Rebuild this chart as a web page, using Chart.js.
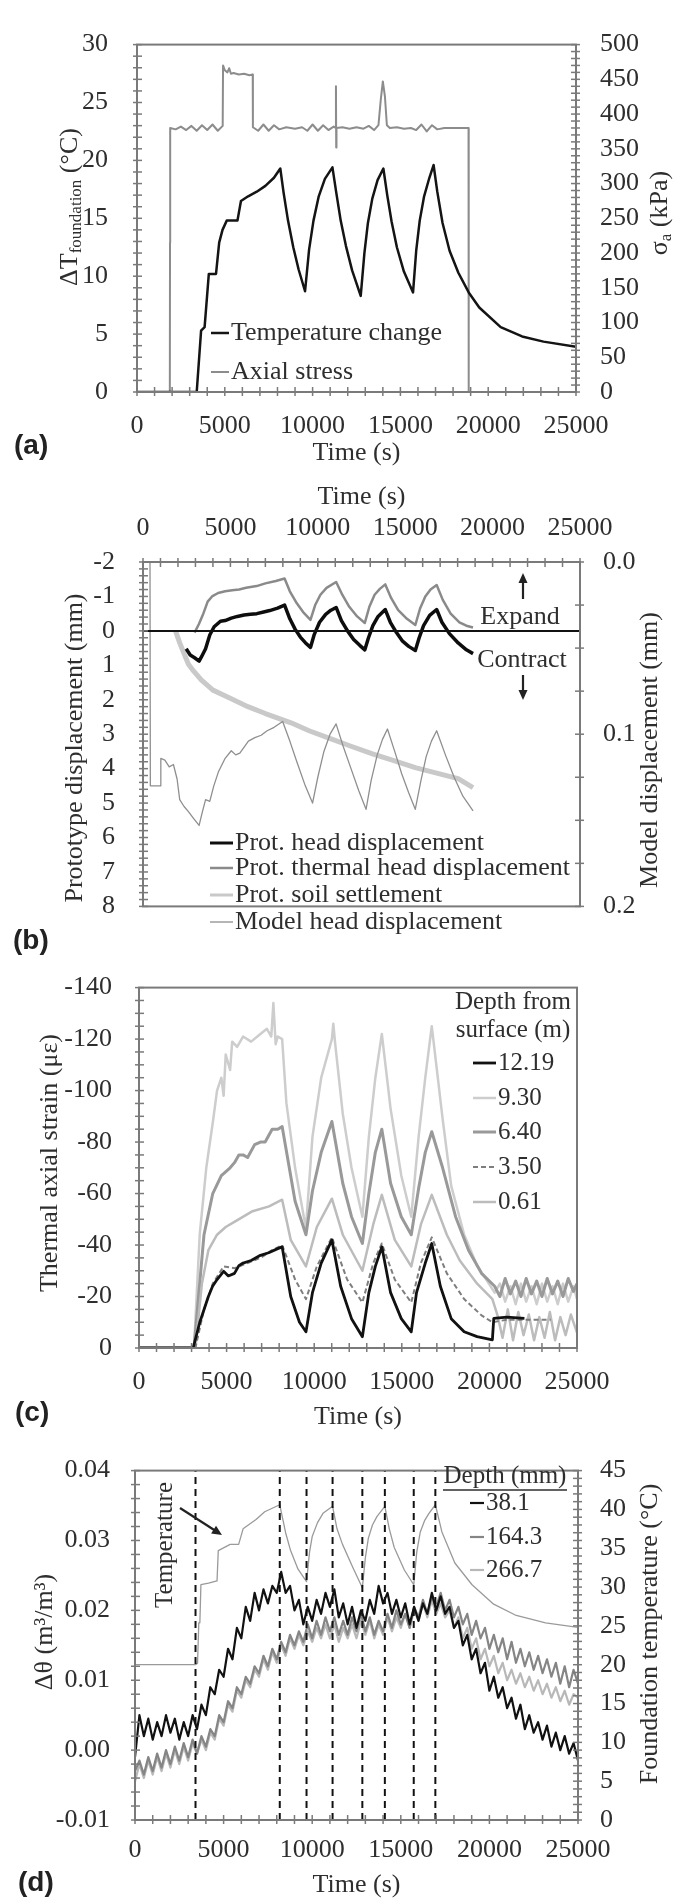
<!DOCTYPE html>
<html><head><meta charset="utf-8">
<script src="https://cdn.jsdelivr.net/npm/chart.js@4.4.1/dist/chart.umd.min.js"></script>
<style>
html,body{margin:0;padding:0;background:#fff;}
#wrap{position:relative;width:681px;height:1902px;overflow:hidden;background:#fff;}
canvas{position:absolute;left:0;}
.lbl{position:absolute;font:bold 28px 'Liberation Sans',Arial,sans-serif;color:#222;line-height:28px;}
</style></head><body>
<div id="wrap">
<canvas id="ca" width="681" height="470" style="top:0px"></canvas>
<canvas id="cb" width="681" height="480" style="top:470px"></canvas>
<canvas id="cc" width="681" height="490" style="top:945px"></canvas>
<canvas id="cd" width="681" height="472" style="top:1430px"></canvas>
<div class="lbl" style="left:14px;top:431px">(a)</div>
<div class="lbl" style="left:13px;top:926px">(b)</div>
<div class="lbl" style="left:15px;top:1398px">(c)</div>
<div class="lbl" style="left:18px;top:1868px">(d)</div>
</div>
<script>
// ---------------- DATA ----------------
// Panel (a): [time (s), value]
const tempChangeA = [[0,0],[3400,0],[3650,5.3],[3850,5.6],[4090,10.2],[4500,10.2],[4680,12.9],[4870,14.0],[5110,14.8],[5720,14.8],[5920,16.5],[6330,16.9],[6820,17.3],[7310,17.8],[7800,18.5],[8160,19.3],[8350,17.2],[8600,14.8],[8900,12.5],[9200,10.6],[9570,8.7],[9800,12.3],[10050,14.8],[10350,16.9],[10700,18.4],[11130,19.4],[11350,17.2],[11600,14.8],[11900,12.6],[12250,10.5],[12740,8.3],[12950,12.0],[13150,14.6],[13400,16.7],[13700,18.3],[14030,19.3],[14250,17.0],[14500,14.7],[14800,12.5],[15200,10.4],[15720,8.6],[15900,12.2],[16100,14.8],[16350,16.9],[16650,18.5],[16890,19.6],[17100,17.3],[17400,14.6],[17800,12.2],[18300,10.3],[18890,8.6],[19490,7.3],[20710,5.6],[21930,4.8],[23150,4.35],[25000,3.9]];
const axialStressA = [[0,0],[1870,0],[1880,215],[1890,380],[2200,378],[2500,382],[2800,377],[3100,383],[3400,376],[3700,384],[4000,377],[4300,385],[4600,376],[4880,383],[4900,470],[5000,463],[5150,460],[5250,466],[5350,458],[5500,459],[5800,457],[6100,458],[6400,456],[6590,457],[6600,381],[6900,376],[7200,385],[7500,376],[7800,384],[8100,378],[8500,381],[9000,379],[9400,381],[9700,376],[10000,385],[10300,376],[10600,384],[10900,377],[11200,382],[11320,380],[11330,440],[11345,352],[11360,380],[11700,381],[12100,379],[12500,381],[12900,379],[13200,383],[13500,377],[13750,384],[13880,420],[14000,447],[14120,425],[14230,384],[14400,380],[14800,381],[15200,379],[15600,380],[15900,377],[16200,385],[16500,375],[16800,384],[17100,378],[17500,380],[18000,380],[18500,380],[18880,380],[18890,0],[25000,0]];
const labelsA = ['Temperature change','Axial stress'];

// Panel (b)
const headB = [[2470,0.52],[2700,0.7],[2950,0.78],[3210,0.88],[3350,0.75],[3580,0.52],[3820,0.12],[4070,-0.12],[4250,-0.2],[4430,-0.28],[4700,-0.3],[5050,-0.37],[5400,-0.42],[5780,-0.46],[6150,-0.48],[6510,-0.5],[6900,-0.55],[7250,-0.59],[7700,-0.66],[8100,-0.75],[8400,-0.35],[8700,-0.05],[9000,0.18],[9300,0.35],[9580,0.48],[9800,0.1],[10100,-0.25],[10450,-0.48],[10750,-0.6],[11050,-0.68],[11350,-0.3],[11700,0.0],[12050,0.25],[12400,0.42],[12690,0.55],[12900,0.2],[13150,-0.15],[13450,-0.42],[13860,-0.62],[14150,-0.25],[14500,0.05],[14850,0.3],[15200,0.45],[15580,0.57],[15800,0.2],[16050,-0.15],[16400,-0.45],[16800,-0.62],[17100,-0.25],[17530,0.08],[18030,0.35],[18500,0.55],[18880,0.66]];
const thermalB = [[2950,0.05],[3200,-0.2],[3450,-0.5],[3700,-0.85],[3950,-1.0],[4300,-1.1],[4700,-1.15],[5100,-1.18],[5500,-1.2],[5900,-1.25],[6500,-1.3],[7000,-1.38],[7600,-1.45],[8100,-1.52],[8400,-1.15],[8800,-0.8],[9200,-0.52],[9580,-0.32],[9850,-0.75],[10150,-1.05],[10500,-1.25],[11050,-1.42],[11400,-1.05],[11800,-0.7],[12250,-0.42],[12690,-0.23],[12950,-0.7],[13250,-1.05],[13550,-1.22],[13860,-1.35],[14200,-0.95],[14600,-0.6],[15100,-0.35],[15580,-0.17],[15850,-0.65],[16150,-1.0],[16450,-1.2],[16800,-1.33],[17150,-0.9],[17600,-0.5],[18100,-0.25],[18500,-0.15],[18880,-0.1]];
const soilB = [[1860,0.0],[2100,0.35],[2300,0.6],[2600,0.97],[2900,1.17],[3330,1.42],[4000,1.72],[5050,1.97],[6000,2.2],[7000,2.4],[8470,2.67],[9500,2.9],[10680,3.12],[11900,3.35],[13130,3.57],[14350,3.77],[15580,3.97],[16800,4.13],[18030,4.29],[18880,4.55]];
const modelB = [[400,0.0],[420,0.13],[1000,0.13],[1020,0.114],[1250,0.115],[1500,0.119],[1740,0.1176],[1950,0.126],[2100,0.138],[2350,0.142],[2600,0.145],[2900,0.149],[3210,0.153],[3400,0.145],[3580,0.138],[3820,0.139],[4050,0.13],[4310,0.122],[4700,0.114],[5050,0.1096],[5300,0.112],[5540,0.111],[6030,0.104],[6400,0.102],[6760,0.1006],[7100,0.098],[7500,0.096],[7990,0.0926],[8400,0.104],[8800,0.116],[9250,0.129],[9700,0.14],[10000,0.125],[10350,0.11],[10700,0.1],[11045,0.094],[11450,0.107],[11900,0.12],[12350,0.133],[12760,0.1436],[13050,0.127],[13400,0.112],[13700,0.103],[13985,0.097],[14400,0.11],[14800,0.123],[15200,0.134],[15576,0.1436],[15900,0.127],[16200,0.113],[16500,0.104],[16800,0.098],[17300,0.112],[17800,0.125],[18300,0.136],[18882,0.1445]];
const zeroLineB = [[0,0],[25000,0]];
const labelsB = ['Prot. head displacement','Prot. thermal head displacement','Prot. soil settlement','Model head displacement'];

// Panel (c)
const c12_19 = [[0,0],[3090,0],[3470,-10],[3960,-20],[4200,-24],[4455,-26.6],[4830,-29.8],[5100,-28],[5450,-29],[5700,-32],[5940,-33],[6400,-34],[6930,-36],[7400,-37],[7920,-38.6],[8170,-39.3],[8660,-20],[9160,-10],[9530,-6.3],[9900,-21.5],[10400,-33],[11010,-42],[11510,-24],[12130,-11.4],[12750,-4.4],[13120,-21.5],[13490,-31.7],[13860,-39.3],[14360,-21.5],[14970,-11.4],[15540,-6.3],[15840,-21.5],[16340,-33],[16710,-40.6],[17200,-24],[17820,-11.4],[18560,-6.3],[19300,-4.4],[20170,-3.2],[20250,-11.5],[21000,-12],[22000,-11.5]];
const c9_30 = [[0,0],[3140,0],[3465,-44],[3840,-70],[4210,-87.5],[4455,-100],[4700,-105],[4830,-98],[4950,-114],[5200,-108],[5320,-119],[5600,-117],[5940,-121],[6400,-119],[6930,-122],[7300,-124],[7550,-121],[7670,-134],[7800,-118],[7920,-121],[8170,-120],[8415,-95],[8910,-70],[9405,-51],[9530,-47],[9900,-82],[10400,-105],[11010,-120],[11090,-126],[11200,-118],[11630,-91],[12130,-70],[12750,-51],[13120,-82],[13490,-105],[13860,-122],[14360,-93],[14970,-67],[15540,-51],[15960,-82],[16340,-105],[16710,-125],[17330,-89],[17820,-63],[18560,-44],[19300,-32],[20300,-21.5],[20600,-25],[20900,-18],[21200,-24],[21500,-17],[21800,-25],[22100,-18],[22400,-24],[22700,-17],[23000,-25],[23300,-18],[23600,-24],[23900,-17],[24200,-25],[24500,-18],[24800,-24],[25000,-19]];
const c6_40 = [[0,0],[3140,0],[3710,-44],[4210,-60],[4700,-67],[5200,-70],[5450,-72],[5700,-75],[5940,-75],[6200,-74],[6600,-79],[6930,-80],[7200,-80],[7600,-85],[7920,-85],[8170,-86],[8910,-57],[9530,-44],[9900,-61],[10400,-76],[11010,-88],[11630,-64],[12130,-51],[12750,-40.6],[13120,-60],[13490,-76],[13860,-85],[14360,-64],[14970,-51],[15540,-44],[15960,-62],[16340,-76],[16710,-84],[17330,-70],[18070,-51],[18810,-38],[19550,-29],[20300,-24],[20600,-20],[20900,-27],[21200,-21],[21500,-26],[21800,-20],[22100,-27],[22400,-21],[22700,-26],[23000,-20],[23300,-27],[23600,-21],[23900,-26],[24200,-20],[24500,-27],[24800,-22],[25000,-25]];
const c3_50 = [[0,0],[3220,0],[3710,-15],[3960,-20],[4210,-25],[4830,-31.7],[5450,-31],[6200,-33],[6930,-35],[7600,-38],[8170,-40],[8910,-26.6],[9530,-19],[10150,-31.7],[11010,-43],[11880,-26.6],[12750,-17.7],[13370,-33],[13860,-40.6],[14600,-26.6],[15540,-17.7],[16090,-33],[16710,-43],[17570,-29],[18560,-19],[19550,-12.7],[20170,-10],[21000,-11],[22000,-11],[23500,-11]];
const c0_61 = [[0,0],[3220,0],[3590,-25],[3960,-38],[4455,-44],[4950,-47],[5445,-49],[6435,-53],[7425,-55],[8170,-57.6],[8660,-42],[9530,-31.7],[10150,-47],[11010,-58],[11630,-44],[12750,-30],[13370,-48],[13860,-59.5],[14600,-42],[15540,-31.7],[16090,-48],[16710,-59.5],[17570,-44],[18310,-34],[19300,-25],[20170,-19],[20450,-13],[20750,-4],[21050,-15],[21350,-3],[21650,-14],[21950,-5],[22250,-13],[22550,-3],[22850,-12],[23150,-4],[23450,-14],[23750,-3],[24050,-12],[24350,-5],[24650,-13],[25000,-6]];
const depthLabelsC = ['12.19','9.30','6.40','3.50','0.61'];

// Panel (d)
const timeD = [0,250,500,750,1000,1250,1500,1750,2000,2250,
2500,2750,3000,3250,3500,3750,4000,4250,4500,4750,
5000,5250,5500,5750,6000,6250,6500,6750,7000,7250,
7500,7750,8000,8250,8500,8750,9000,9250,9500,9750,
10000,10250,10500,10750,11000,11250,11500,11750,12000,12250,
12500,12750,13000,13250,13500,13750,14000,14250,14500,14750,
15000,15250,15500,15750,16000,16250,16500,16750,17000,17250,
17500,17750,18000,18250,18500,18750,19000,19250,19500,19750,
20000,20250,20500,20750,21000,21250,21500,21750,22000,22250,
22500,22750,23000,23250,23500,23750,24000,24250,24500,24750,
25000];
const d38_1 = [-0.001,0.005,0.002,0.0045,0.0015,0.004,0.002,0.005,0.0025,0.0045,
0.0015,0.004,0.002,0.005,0.003,0.0065,0.005,0.009,0.008,0.0115,
0.0105,0.0145,0.013,0.0175,0.016,0.0205,0.0185,0.0225,0.02,0.023,
0.021,0.0235,0.0225,0.0255,0.0225,0.0235,0.02,0.0215,0.018,0.0205,
0.0185,0.0215,0.0195,0.0225,0.0205,0.023,0.019,0.021,0.018,0.0205,
0.0175,0.02,0.0185,0.0215,0.0195,0.0235,0.021,0.0225,0.0195,0.0215,
0.019,0.021,0.018,0.0205,0.0185,0.021,0.0195,0.0225,0.02,0.022,
0.0195,0.0205,0.0175,0.0185,0.015,0.0165,0.013,0.0145,0.011,0.0125,
0.0085,0.0105,0.0075,0.009,0.006,0.0075,0.0045,0.0065,0.003,0.005,
0.0025,0.004,0.0015,0.0035,0.0005,0.0025,0.0,0.002,-0.0005,0.001,
-0.0015];
const d164_3 = [-0.003,-0.0015,-0.0035,-0.001,-0.003,-0.0005,-0.0025,0.0,-0.002,0.0005,
-0.0015,0.001,-0.001,0.0015,-0.0005,0.002,0.0005,0.003,0.002,0.005,
0.004,0.007,0.006,0.009,0.008,0.0105,0.0095,0.012,0.011,0.0135,
0.012,0.0145,0.013,0.0155,0.014,0.0165,0.015,0.017,0.0155,0.018,
0.016,0.0185,0.0165,0.019,0.017,0.019,0.0165,0.0185,0.0165,0.019,
0.017,0.0195,0.017,0.019,0.0165,0.0185,0.017,0.0195,0.0175,0.02,
0.018,0.0195,0.0175,0.0205,0.019,0.0215,0.0195,0.022,0.0205,0.0225,
0.02,0.0215,0.019,0.0205,0.018,0.0195,0.0165,0.0185,0.016,0.0175,
0.0145,0.0165,0.014,0.016,0.013,0.0155,0.0125,0.0145,0.012,0.014,
0.0115,0.0135,0.011,0.013,0.0105,0.0125,0.0095,0.012,0.009,0.0115,
0.0095];
const d266_7 = [-0.0045,-0.002,-0.004,-0.0015,-0.0035,-0.001,-0.003,-0.0005,-0.0025,0.0,
-0.002,0.0005,-0.0015,0.001,-0.0005,0.0015,0.0,0.0025,0.0015,0.0045,
0.0035,0.0065,0.0055,0.0085,0.0075,0.01,0.009,0.0115,0.0105,0.013,
0.0115,0.014,0.0125,0.015,0.0135,0.016,0.0145,0.0165,0.015,0.017,
0.0155,0.0175,0.016,0.018,0.016,0.018,0.0155,0.0175,0.016,0.018,
0.016,0.0185,0.0165,0.0185,0.016,0.018,0.0165,0.019,0.017,0.019,
0.0175,0.0195,0.0175,0.02,0.0185,0.021,0.019,0.0215,0.0195,0.021,
0.019,0.02,0.0175,0.019,0.016,0.0175,0.0145,0.016,0.013,0.0145,
0.012,0.0135,0.011,0.0125,0.01,0.0115,0.0095,0.011,0.009,0.0105,
0.0085,0.01,0.008,0.0095,0.0075,0.009,0.007,0.0085,0.0065,0.008,
0.0075];
const tempD = [[0,20],[3415,20],[3530,20.2],[3600,25.4],[3660,25.4],[3720,30.3],[4150,30.5],[4630,30.8],[4700,34.7],[5370,35.5],[5850,35.5],[6100,37.5],[6830,38.7],[7320,39.7],[8170,40.6],[8500,37],[8780,34.7],[9200,32.3],[9680,30.7],[9850,34.5],[10000,36.5],[10300,38.3],[10610,39.5],[11150,40.4],[11400,37.5],[11710,35.5],[12300,32.5],[12830,29.9],[13000,33.8],[13170,36.3],[13400,38],[13660,39.1],[14100,40.4],[14350,37.5],[14630,35.1],[15200,32.2],[15730,30.3],[15900,34.5],[16100,37.1],[16350,38.6],[16590,39.5],[16950,40.6],[17320,37.1],[18050,33.1],[19020,30.3],[20240,27.8],[21460,26.4],[23170,25.4],[25000,24.8]];
const eventTimesD = [3415, 8170, 9680, 11150, 12830, 14100, 15730, 16950];
const depthLabelsD = ['38.1','164.3','266.7'];

// ---------------- HELPERS ----------------
const P = arr => arr.map(p => ({x: p[0], y: p[1]}));
const Z = (xs, ys) => xs.map((x, i) => ({x, y: ys[i]}));
const SERIF = "'Liberation Serif', 'Times New Roman', serif";
const FS = 26;
const TXT = '#2e2e2e';
const TF = {family: SERIF, size: FS};
Chart.defaults.font.family = SERIF;
Chart.defaults.font.size = FS;
Chart.defaults.color = TXT;
Chart.defaults.animation = false;
Chart.defaults.elements.point.radius = 0;
Chart.defaults.elements.line.tension = 0;
Chart.defaults.elements.line.borderJoinStyle = 'round';

function drawParts(ctx, t, oy) {
  ctx.save();
  ctx.translate(t.x, t.y - oy);
  ctx.rotate(t.rot || 0);
  const big = FS + 'px ' + SERIF, small = '17px ' + SERIF;
  let total = 0;
  t.parts.forEach(p => { ctx.font = p.sub ? small : big; total += ctx.measureText(p.t).width; });
  let x = -total / 2;
  ctx.textBaseline = 'middle'; ctx.textAlign = 'left'; ctx.fillStyle = TXT;
  t.parts.forEach(p => { ctx.font = p.sub ? small : big; ctx.fillText(p.t, x, p.sub ? 7 : 0); x += ctx.measureText(p.t).width; });
  ctx.restore();
}

const decor = {
  id: 'decor',
  afterDatasetsDraw(chart, args, o) {
    const ctx = chart.ctx, a = chart.chartArea, oy = o.oy || 0;
    ctx.save();
    ctx.setLineDash([]);
    ctx.strokeStyle = '#7a7a7a'; ctx.lineWidth = 2;
    ctx.strokeRect(a.left, a.top, a.right - a.left, a.bottom - a.top);
    ctx.lineWidth = 1.5;
    (o.minor || []).forEach(m => {
      const s = chart.scales[m.scale];
      const n = Math.round((s.max - s.min) / m.step);
      for (let i = 0; i <= n; i++) {
        const p = s.getPixelForValue(s.min + i * m.step);
        ctx.beginPath();
        if (m.edge === 'left') { ctx.moveTo(a.left - 4, p); ctx.lineTo(a.left + 5, p); }
        else if (m.edge === 'right') { ctx.moveTo(a.right - 5, p); ctx.lineTo(a.right + 4, p); }
        else if (m.edge === 'bottom') { ctx.moveTo(p, a.bottom - 5); ctx.lineTo(p, a.bottom + 4); }
        else { ctx.moveTo(p, a.top - 4); ctx.lineTo(p, a.top + 5); }
        ctx.stroke();
      }
    });
    if (o.legend) {
      const L = o.legend;
      ctx.font = L.font || (FS + 'px ' + SERIF);
      ctx.textBaseline = 'middle'; ctx.textAlign = 'left';
      L.items.forEach(it => {
        const ds = chart.data.datasets[it.ds];
        ctx.strokeStyle = ds.borderColor; ctx.lineWidth = Math.min(ds.borderWidth, 3);
        ctx.setLineDash(ds.borderDash || []);
        ctx.beginPath(); ctx.moveTo(L.x1, it.y - oy); ctx.lineTo(L.x2, it.y - oy); ctx.stroke();
        ctx.setLineDash([]);
        ctx.fillStyle = TXT;
        ctx.fillText(ds.label, L.tx, it.y - oy);
      });
    }
    (o.texts || []).forEach(t => {
      ctx.save();
      ctx.translate(t.x, t.y - oy); ctx.rotate(t.rot || 0);
      ctx.font = t.font || (FS + 'px ' + SERIF);
      ctx.textAlign = 'center'; ctx.textBaseline = 'middle'; ctx.fillStyle = TXT;
      ctx.fillText(t.t, 0, 0);
      ctx.restore();
    });
    (o.rules || []).forEach(r => {
      ctx.strokeStyle = TXT; ctx.lineWidth = 1.5; ctx.setLineDash([]);
      ctx.beginPath(); ctx.moveTo(r[0], r[1] - oy); ctx.lineTo(r[2], r[3] - oy); ctx.stroke();
    });
    (o.arrows || []).forEach(r => {
      const x1 = r[0], y1 = r[1] - oy, x2 = r[2], y2 = r[3] - oy;
      const ang = Math.atan2(y2 - y1, x2 - x1);
      ctx.strokeStyle = '#222'; ctx.fillStyle = '#222'; ctx.lineWidth = 2.2; ctx.setLineDash([]);
      ctx.beginPath(); ctx.moveTo(x1, y1); ctx.lineTo(x2 - 6 * Math.cos(ang), y2 - 6 * Math.sin(ang)); ctx.stroke();
      ctx.beginPath();
      ctx.moveTo(x2, y2);
      ctx.lineTo(x2 - 10 * Math.cos(ang) + 4.5 * Math.sin(ang), y2 - 10 * Math.sin(ang) - 4.5 * Math.cos(ang));
      ctx.lineTo(x2 - 10 * Math.cos(ang) - 4.5 * Math.sin(ang), y2 - 10 * Math.sin(ang) + 4.5 * Math.cos(ang));
      ctx.closePath(); ctx.fill();
    });
    (o.titles || []).forEach(t => drawParts(ctx, t, oy));
    ctx.restore();
  }
};

const noGrid = {display: false, drawTicks: false};
const noBorder = {display: false};
const timeTicks = pad => ({stepSize: 5000, padding: pad, maxRotation: 0, autoSkip: false, font: TF, color: TXT, callback: v => String(v)});
const yTicks = (step, pad, cb) => { const t = {stepSize: step, padding: pad, font: TF, color: TXT}; if (cb) t.callback = cb; return t; };
const xTitle = (pt, pb) => ({display: true, text: 'Time (s)', font: TF, color: TXT, padding: {top: pt, bottom: pb}});
const R = -Math.PI / 2;

// ---------------- PANEL A ----------------
new Chart('ca', {
  type: 'line',
  data: {datasets: [
    {label: labelsA[0], data: P(tempChangeA), borderColor: '#141414', borderWidth: 2.5, yAxisID: 'y'},
    {label: labelsA[1], data: P(axialStressA), borderColor: '#8c8c8c', borderWidth: 2, yAxisID: 'y2'}
  ]},
  options: {
    responsive: false, animation: false,
    layout: {padding: {top: 23, left: 0, right: 0, bottom: 0}},
    scales: {
      x: {type: 'linear', position: 'bottom', min: 0, max: 25000, afterFit: s => { s.height = 78; },
          ticks: timeTicks(19), grid: noGrid, border: noBorder, title: xTitle(0, 1.4)},
      y: {type: 'linear', position: 'left', min: 0, max: 30, afterFit: s => { s.width = 137; },
          ticks: yTicks(5, 29), grid: noGrid, border: noBorder},
      y2: {type: 'linear', position: 'right', min: 0, max: 500, afterFit: s => { s.width = 105; },
          ticks: yTicks(50, 24), grid: noGrid, border: noBorder}
    },
    plugins: {
      legend: {display: false}, tooltip: {enabled: false},
      decor: {
        oy: 0,
        minor: [{scale: 'x', step: 1000, edge: 'bottom'}, {scale: 'y', step: 1, edge: 'left'}, {scale: 'y2', step: 10, edge: 'right'}],
        legend: {x1: 211, x2: 229, tx: 231, items: [{ds: 0, y: 333}, {ds: 1, y: 372}]},
        titles: [
          {x: 70, y: 207, rot: R, parts: [{t: 'ΔT'}, {t: 'foundation', sub: 1}, {t: ' (°C)'}]},
          {x: 660, y: 213, rot: R, parts: [{t: 'σ'}, {t: 'a', sub: 1}, {t: ' (kPa)'}]}
        ]
      }
    }
  },
  plugins: [decor]
});

// ---------------- PANEL B ----------------
new Chart('cb', {
  type: 'line',
  data: {datasets: [
    {label: 'zero', data: P(zeroLineB), borderColor: '#111', borderWidth: 2, yAxisID: 'y'},
    {label: labelsB[0], data: P(headB), borderColor: '#0d0d0d', borderWidth: 3.5, yAxisID: 'y'},
    {label: labelsB[1], data: P(thermalB), borderColor: '#8a8a8a', borderWidth: 2.5, yAxisID: 'y'},
    {label: labelsB[3], data: P(modelB), borderColor: '#8f8f8f', borderWidth: 1.3, yAxisID: 'y2'},
    {label: labelsB[2], data: P(soilB), borderColor: '#c9c9c9', borderWidth: 5, yAxisID: 'y'}
  ]},
  options: {
    responsive: false, animation: false,
    layout: {padding: {top: 0, left: 0, right: 0, bottom: 17}},
    scales: {
      x: {type: 'linear', position: 'top', min: 0, max: 25000, afterFit: s => { s.height = 92; },
          ticks: timeTicks(18.4), grid: noGrid, border: noBorder, title: xTitle(11.4, 0)},
      y: {type: 'linear', position: 'left', min: -2, max: 8, reverse: true, afterFit: s => { s.width = 143; },
          ticks: yTicks(1, 28), grid: noGrid, border: noBorder},
      y2: {type: 'linear', position: 'right', min: 0, max: 0.2, reverse: true, afterFit: s => { s.width = 101; },
          ticks: yTicks(0.1, 23, v => v.toFixed(1)), grid: noGrid, border: noBorder}
    },
    plugins: {
      legend: {display: false}, tooltip: {enabled: false},
      decor: {
        oy: 470,
        minor: [{scale: 'x', step: 1000, edge: 'top'}, {scale: 'y', step: 0.2, edge: 'left'}, {scale: 'y2', step: 0.025, edge: 'right'}],
        legend: {x1: 210, x2: 233, tx: 235, items: [{ds: 1, y: 843}, {ds: 2, y: 868}, {ds: 4, y: 895}, {ds: 3, y: 922}]},
        texts: [{t: 'Expand', x: 520, y: 617}, {t: 'Contract', x: 522, y: 660}],
        arrows: [[523, 599, 523, 573], [523, 675, 523, 700]],
        titles: [
          {x: 75, y: 748, rot: R, parts: [{t: 'Prototype displacement (mm)'}]},
          {x: 650, y: 750, rot: R, parts: [{t: 'Model displacement (mm)'}]}
        ]
      }
    }
  },
  plugins: [decor]
});

// ---------------- PANEL C ----------------
new Chart('cc', {
  type: 'line',
  data: {datasets: [
    {label: depthLabelsC[0], data: P(c12_19), borderColor: '#111', borderWidth: 2.8},
    {label: depthLabelsC[3], data: P(c3_50), borderColor: '#7e7e7e', borderWidth: 2, borderDash: [5, 3]},
    {label: depthLabelsC[4], data: P(c0_61), borderColor: '#bcbcbc', borderWidth: 2.5},
    {label: depthLabelsC[2], data: P(c6_40), borderColor: '#999999', borderWidth: 3},
    {label: depthLabelsC[1], data: P(c9_30), borderColor: '#cdcdcd', borderWidth: 2.5}
  ]},
  options: {
    responsive: false, animation: false,
    layout: {padding: {top: 33, left: 0, right: 104, bottom: 0}},
    scales: {
      x: {type: 'linear', position: 'bottom', min: 0, max: 25000, afterFit: s => { s.height = 87; },
          ticks: timeTicks(18.4), grid: noGrid, border: noBorder, title: xTitle(0, 2.4)},
      y: {type: 'linear', position: 'left', min: -140, max: 0, reverse: true, afterFit: s => { s.width = 139; },
          ticks: yTicks(20, 27), grid: noGrid, border: noBorder}
    },
    plugins: {
      legend: {display: false}, tooltip: {enabled: false},
      decor: {
        oy: 945,
        minor: [{scale: 'x', step: 1000, edge: 'bottom'}, {scale: 'y', step: 5, edge: 'left'}],
        legend: {x1: 473, x2: 496, tx: 498, font: '25px ' + SERIF,
                 items: [{ds: 0, y: 1063}, {ds: 4, y: 1098}, {ds: 3, y: 1132}, {ds: 1, y: 1167}, {ds: 2, y: 1202}]},
        texts: [{t: 'Depth from', x: 513, y: 1002, font: '25px ' + SERIF}, {t: 'surface (m)', x: 513, y: 1030, font: '25px ' + SERIF}],
        titles: [{x: 50, y: 1163, rot: R, parts: [{t: 'Thermal axial strain (με)'}]}]
      }
    }
  },
  plugins: [decor]
});

// ---------------- PANEL D ----------------
const eventSets = eventTimesD.map(t => ({label: 'event', data: [{x: t, y: -0.01}, {x: t, y: 0.04}],
  borderColor: '#111', borderWidth: 2, borderDash: [7, 5], yAxisID: 'y'}));
const dSeries = [
  {label: depthLabelsD[0], data: Z(timeD, d38_1), borderColor: '#111', borderWidth: 2.2, yAxisID: 'y'},
  {label: depthLabelsD[1], data: Z(timeD, d164_3), borderColor: '#858585', borderWidth: 2.2, yAxisID: 'y'},
  {label: depthLabelsD[2], data: Z(timeD, d266_7), borderColor: '#b8b8b8', borderWidth: 2.2, yAxisID: 'y'},
  {label: 'Temperature', data: P(tempD), borderColor: '#9a9a9a', borderWidth: 1.3, yAxisID: 'y2'}
];
const nE = eventSets.length;
new Chart('cd', {
  type: 'line',
  data: {datasets: eventSets.concat(dSeries)},
  options: {
    responsive: false, animation: false,
    layout: {padding: {top: 18, left: 0, right: 0, bottom: 0}},
    scales: {
      x: {type: 'linear', position: 'bottom', min: 0, max: 25000, afterFit: s => { s.height = 82; },
          ticks: timeTicks(14.4), grid: noGrid, border: noBorder, title: xTitle(0, 1.4)},
      y: {type: 'linear', position: 'left', min: -0.01, max: 0.04, afterFit: s => { s.width = 135; },
          ticks: yTicks(0.01, 25, v => (Math.abs(v) < 1e-9 ? 0 : v).toFixed(2)), grid: noGrid, border: noBorder},
      y2: {type: 'linear', position: 'right', min: 0, max: 45, afterFit: s => { s.width = 103; },
          ticks: yTicks(5, 22), grid: noGrid, border: noBorder}
    },
    plugins: {
      legend: {display: false}, tooltip: {enabled: false},
      decor: {
        oy: 1430,
        minor: [{scale: 'x', step: 1000, edge: 'bottom'}, {scale: 'y', step: 0.002, edge: 'left'}, {scale: 'y2', step: 1, edge: 'right'}],
        legend: {x1: 470, x2: 484, tx: 486, font: '25px ' + SERIF,
                 items: [{ds: nE, y: 1503}, {ds: nE + 1, y: 1537}, {ds: nE + 2, y: 1570}]},
        texts: [{t: 'Depth (mm)', x: 505, y: 1476, font: '25px ' + SERIF},
                {t: 'Temperature', x: 165, y: 1545, rot: R, font: '25px ' + SERIF}],
        rules: [[443, 1490, 567, 1490]],
        arrows: [[180, 1508, 222, 1535]],
        titles: [
          {x: 45, y: 1632, rot: R, parts: [{t: 'Δθ (m³/m³)'}]},
          {x: 650, y: 1634, rot: R, parts: [{t: 'Foundation temperature (°C)'}]}
        ]
      }
    }
  },
  plugins: [decor]
});
</script>
</body></html>
